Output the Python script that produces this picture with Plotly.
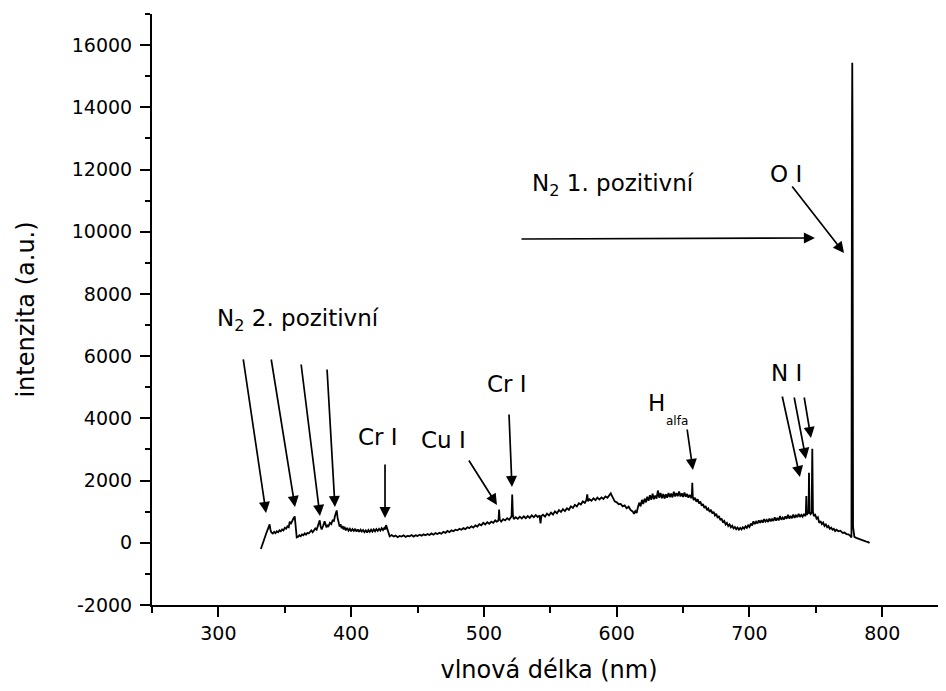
import plotly.graph_objects as go

# Spectrum (wavelength nm, intensity a.u.), in segments
wl_a = [332.0, 332.6, 333.5, 334.9, 336.0, 337.4, 338.0, 338.6, 339.2, 339.9,
        341.0, 342.0, 343.0, 344.0, 345.0, 346.0, 347.0, 348.0, 349.0, 350.0,
        351.0, 352.0, 353.0, 353.7, 354.5, 355.5, 356.5, 357.5, 358.2, 359.0,
        360.0, 361.0, 362.0, 363.0, 364.0, 365.0, 366.0, 367.0, 368.0, 369.0,
        370.0, 371.0, 372.0, 373.0, 374.0, 374.8, 375.5, 376.3, 377.0, 377.8,
        379.0, 380.0, 380.6, 381.5, 382.3, 383.0, 384.0, 385.0, 386.0, 387.0,
        387.8, 388.5, 389.1]
int_a = [-200, -120, 50, 160, 300, 430, 520, 590, 420, 330,
         300, 350, 310, 370, 340, 400, 370, 430, 400, 480,
         450, 530, 500, 680, 600, 720, 780, 850, 500, 170,
         190, 240, 210, 270, 240, 300, 260, 320, 300, 370,
         400, 340, 420, 460, 420, 530, 650, 720, 520, 430,
         560, 690, 600, 490, 580, 540, 640, 600, 720, 700,
         860, 980, 1040]

wl_a2 = [389.8, 390.5, 391.3, 392.0, 392.8, 393.5, 394.3, 395.0, 396.0, 397.0,
         398.0, 399.0, 400.0, 401.0, 402.0, 403.0, 404.0, 405.0, 406.0, 407.0,
         408.0, 409.0, 410.0, 411.0, 412.0, 413.0, 414.0, 415.0, 416.0, 417.0,
         418.0, 419.0, 420.0, 421.0, 422.0, 423.0, 424.0, 425.0, 425.8, 426.3,
         426.8, 427.5, 428.3, 429.0]
int_a2 = [800, 690, 520, 600, 470, 540, 430, 510, 400, 480,
          390, 450, 370, 440, 380, 450, 360, 430, 350, 420,
          360, 410, 340, 400, 330, 410, 350, 420, 360, 430,
          370, 440, 380, 450, 390, 470, 410, 480, 430, 570,
          500, 460, 340, 210]

wl_b = [430.5, 432.0, 433.5, 435.0, 436.5, 438.0, 439.5, 441.0, 442.5, 444.0,
        445.5, 447.0, 448.5, 450.0, 451.5, 453.0, 454.5, 456.0, 457.5, 459.0,
        460.5, 462.0, 463.5, 465.0, 466.5, 468.0, 469.5, 471.0, 472.5, 474.0,
        475.5, 477.0, 478.5, 480.0, 481.5, 483.0, 484.5, 486.0, 487.5, 489.0,
        490.5, 492.0, 493.5, 495.0, 496.5, 498.0, 499.5, 501.0, 502.5, 504.0,
        505.5, 507.0, 508.5, 509.5, 510.5, 511.0, 511.4, 511.9, 513.0, 514.5,
        516.0, 517.5, 519.0, 520.2, 520.8, 521.3, 521.8, 522.5, 524.0, 525.5,
        527.0, 528.5, 530.0, 531.5, 533.0, 534.5, 536.0, 537.5, 539.0, 540.5,
        541.9, 542.6, 543.3]
int_b = [250, 200, 230, 180, 220, 200, 240, 190, 220, 210,
         250, 200, 240, 220, 260, 230, 270, 240, 280, 250,
         300, 260, 310, 280, 320, 290, 350, 320, 380, 340,
         400, 370, 420, 400, 450, 420, 470, 440, 500, 470,
         530, 490, 560, 520, 600, 560, 640, 590, 660, 610,
         680, 640, 720, 680, 700, 750, 1070, 740, 680, 760,
         720, 790, 740, 820, 850, 1550, 900, 760, 820, 770,
         840, 780, 850, 790, 860, 800, 880, 820, 890, 830,
         880, 620, 860]

wl_c = [544.5, 546.0, 547.5, 549.0, 550.5, 552.0, 553.5, 555.0, 556.5, 558.0,
        559.5, 561.0, 562.5, 564.0, 565.5, 567.0, 568.5, 570.0, 571.5, 573.0,
        574.5, 576.0, 577.2, 577.8, 578.4, 579.5, 581.0, 582.5, 584.0, 585.5,
        587.0, 588.5, 590.0, 591.5, 593.0, 594.5, 595.5, 596.5, 597.5, 598.5,
        600.0, 601.5, 603.0, 604.5, 606.0, 607.5, 609.0, 610.5, 612.0, 613.0,
        614.0, 615.0, 616.0, 617.0, 618.0, 619.0, 620.0, 621.0, 622.0, 623.0,
        624.0, 625.0, 626.0, 627.0, 628.0, 629.0, 630.0, 631.0, 632.0, 633.0,
        634.0, 635.0, 636.0, 637.0, 638.0, 639.0, 640.0, 641.0, 642.0, 643.0,
        644.0, 645.0, 646.0, 647.0, 648.0, 649.0, 650.0, 651.0, 652.0, 653.0,
        654.0, 655.0, 656.0, 656.6, 656.9, 657.3, 658.0, 659.0, 660.0, 661.0,
        662.0, 663.0, 664.0, 665.0, 666.0, 667.0, 668.0, 669.0, 670.0, 671.0,
        672.0, 673.0, 674.0, 675.0, 676.0, 677.0, 678.0, 679.0, 680.0, 681.0,
        682.0, 683.0, 684.0, 685.0, 686.0, 687.0, 688.0, 689.0, 690.0]
int_c = [900, 840, 940, 880, 970, 910, 1010, 950, 1050, 990,
         1080, 1020, 1110, 1060, 1170, 1120, 1220, 1170, 1270, 1230,
         1330, 1280, 1380, 1560, 1340, 1400, 1350, 1430, 1370, 1450,
         1390, 1460, 1410, 1490, 1450, 1550, 1590, 1500, 1400, 1330,
         1300, 1240, 1250, 1170, 1200, 1110, 1160, 1050, 1010, 930,
         1020, 960, 1150, 1290, 1170, 1380, 1250, 1420, 1300, 1480,
         1350, 1530, 1380, 1580, 1400, 1520, 1420, 1680, 1450, 1600,
         1430, 1570, 1420, 1560, 1450, 1600, 1470, 1580, 1460, 1640,
         1490, 1600, 1500, 1650, 1490, 1590, 1470, 1620, 1480, 1570,
         1450, 1540, 1460, 1500, 1930, 1480, 1370, 1450, 1320, 1400,
         1260, 1330, 1190, 1250, 1120, 1180, 1050, 1100, 990, 1060,
         940, 1000, 880, 930, 800, 860, 730, 780, 650, 700,
         590, 640, 540, 590, 500, 550, 460, 510, 440]

wl_d = [691.0, 692.0, 693.0, 694.0, 695.0, 696.0, 697.0, 698.0, 699.0, 700.0,
        701.0, 702.0, 703.0, 704.0, 705.0, 706.0, 707.0, 708.0, 709.0, 710.0,
        711.0, 712.0, 713.0, 714.0, 715.0, 716.0, 717.0, 718.0, 719.0, 720.0,
        721.0, 722.0, 723.0, 724.0, 725.0, 726.0, 727.0, 728.0, 729.0, 730.0,
        731.0, 732.0, 733.0, 734.0, 735.0, 736.0, 737.0, 738.0, 739.0, 740.0,
        741.0, 742.0, 742.4, 742.8, 743.2, 744.0, 744.5, 744.8, 745.2, 746.0,
        746.8, 747.3, 747.8, 748.5, 749.5, 750.5, 751.5, 752.5, 753.5, 754.5,
        755.5, 756.5, 757.5, 758.5, 759.5, 760.5, 761.5, 762.5, 763.5, 764.5,
        765.5, 767.0, 768.5, 770.0, 771.5, 773.0, 774.5, 776.0, 776.8, 777.2,
        777.4, 777.6, 778.0, 778.4, 779.0, 780.4, 782.0, 783.5, 785.0, 786.5,
        788.0, 789.5, 790.4]
int_d = [490, 420, 480, 430, 500, 450, 530, 480, 560, 510,
         620, 560, 690, 600, 680, 620, 720, 640, 730, 650,
         760, 680, 740, 670, 780, 690, 760, 700, 820, 710,
         800, 720, 860, 740, 810, 750, 850, 770, 900, 780,
         860, 790, 910, 800, 880, 820, 930, 830, 900, 840,
         930, 860, 900, 1500, 900, 960, 940, 2250, 980, 920,
         960, 3020, 1000, 860, 900, 780, 820, 640, 700, 600,
         650, 540, 590, 500, 540, 450, 490, 420, 450, 380,
         420, 370, 390, 320, 330, 280, 270, 220, 170, 13400,
         15430, 13400, 520, 420, 190, 160, 130, 100, 80, 60,
         40, 20, -10]

wavelength = wl_a + wl_a2 + wl_b + wl_c + wl_d
intensity = int_a + int_a2 + int_b + int_c + int_d

x_ticks = [300, 400, 500, 600, 700, 800]
y_ticks = [-2000, 0, 2000, 4000, 6000, 8000, 10000, 12000, 14000, 16000]

FONT = "DejaVu Sans, Liberation Sans, Arial, sans-serif"

fig = go.Figure()
fig.add_trace(go.Scatter(
    x=wavelength, y=intensity, mode="lines",
    line=dict(color="black", width=1.8), showlegend=False,
    hoverinfo="skip",
))

# Arrows: head position in data units, tail offset in pixels
arrows = [
    (335.9, 958, -23, -155),
    (357.7, 1151, -24, -149),
    (376.5, 862, -19, -153),
    (387.8, 1151, -8, -139),
    (425.5, 797, 0, -55),
    (509.8, 1215, -29, -46),
    (521.1, 1794, -3, -74),
    (657.4, 2340, -6, -42),
    (749.3, 9799, -295, 1),
    (771.2, 9317, -53, -68),
    (738.0, 2115, -18, -82),
    (742.5, 2694, -12, -63),
    (746.3, 3369, -7, -42),
]
annotations = []
for hx, hy, ax, ay in arrows:
    annotations.append(dict(
        x=hx, y=hy, xref="x", yref="y", ax=ax, ay=ay, text="",
        showarrow=True, arrowhead=2, arrowsize=1.3, arrowwidth=1.7,
        arrowcolor="black",
    ))

labels = [
    ("N<sub>2</sub> 2. pozitivní", 297.4, 7163, "left"),
    ("N<sub>2</sub> 1. pozitivní", 534.7, 11503, "left"),
    ("O I", 727.5, 11857, "center"),
    ("N I", 728.2, 5459, "center"),
    ("Cr I", 420.2, 3401, "center"),
    ("Cu I", 469.9, 3305, "center"),
    ("Cr I", 517.4, 5105, "center"),
    ("H", 629.6, 4494, "center"),
]
for txt, lx, ly, anc in labels:
    annotations.append(dict(
        x=lx, y=ly, xref="x", yref="y", text=txt, showarrow=False,
        xanchor=anc, yanchor="middle",
        font=dict(family=FONT, size=23, color="black"),
    ))
annotations.append(dict(
    x=645.4, y=3916, xref="x", yref="y", text="alfa", showarrow=False,
    xanchor="center", yanchor="middle",
    font=dict(family=FONT, size=12, color="black"),
))

# The page body adds an 8 px offset, so the figure is 8 px smaller than the window
fig.update_layout(
    width=938, height=683,
    margin=dict(l=144, r=0, t=6, b=86),
    paper_bgcolor="white", plot_bgcolor="white",
    font=dict(family=FONT, color="black"),
    annotations=annotations,
    xaxis=dict(
        range=[250, 848], showgrid=False, zeroline=False, automargin=False,
        showline=True, linecolor="black", linewidth=2,
        ticks="outside", ticklen=10, tickwidth=2, tickcolor="black",
        tickvals=x_ticks, ticktext=[str(v) for v in x_ticks],
        tickfont=dict(family=FONT, size=19, color="black"),
        minor=dict(dtick=50, ticks="outside", ticklen=6, tickwidth=2,
                   tickcolor="black", showgrid=False),
        title=dict(text="vlnová délka (nm)", standoff=18,
                   font=dict(family=FONT, size=24, color="black")),
    ),
    yaxis=dict(
        range=[-2000, 17000], showgrid=False, zeroline=False, automargin=False,
        showline=True, linecolor="black", linewidth=2,
        ticks="outside", ticklen=10, tickwidth=2, tickcolor="black",
        tickvals=y_ticks, ticktext=[str(v) for v in y_ticks],
        tickfont=dict(family=FONT, size=19, color="black"),
        ticklabelstandoff=4,
        minor=dict(dtick=1000, ticks="outside", ticklen=5, tickwidth=2,
                   tickcolor="black", showgrid=False),
        title=dict(text="intenzita (a.u.)", standoff=30,
                   font=dict(family=FONT, size=24, color="black")),
    ),
)

fig.write_html("out.html")
